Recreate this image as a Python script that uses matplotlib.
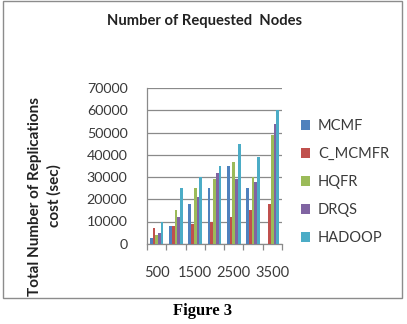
import matplotlib
matplotlib.use("Agg")
import matplotlib.pyplot as plt
from matplotlib.patches import Rectangle, Patch
import numpy as np

categories = ["500", "1000", "1500", "2000", "2500", "3000", "3500"]
series_names = ["MCMF", "C_MCMFR", "HQFR", "DRQS", "HADOOP"]
mcmf = [2500, 8000, 18000, 25000, 35000, 25000, 0]
c_mcmfr = [7200, 8000, 9000, 10000, 12000, 15000, 18000]
hqfr = [4000, 15000, 25000, 29000, 37000, 30000, 49000]
drqs = [5000, 12000, 21000, 32000, 29000, 28000, 54000]
hadoop = [10000, 25000, 30000, 35000, 45000, 39000, 60000]
yticks = [0, 10000, 20000, 30000, 40000, 50000, 60000, 70000]
shown_xlabels = ["500", "1500", "2500", "3500"]

colors = ["#4F81BD", "#C0504D", "#9BBB59", "#8064A2", "#4BACC6"]
series = [mcmf, c_mcmfr, hqfr, drqs, hadoop]

W, H = 407, 324
fig = plt.figure(figsize=(W / 100, H / 100), dpi=100)
fig.patch.set_facecolor("white")

# outer chart border
fig.add_artist(Rectangle((3 / W, 1 - 298 / H), 399 / W, 297.5 / H,
                         transform=fig.transFigure, fill=False,
                         edgecolor="#8c8c8c", linewidth=1.0))

left, right, top, bottom = 147, 282, 88.3, 243.7
ax = fig.add_axes([left / W, 1 - bottom / H, (right - left) / W, (bottom - top) / H])

x = np.arange(len(categories))
n = len(series)
bw = 0.14
for i, (vals, c, name) in enumerate(zip(series, colors, series_names)):
    ax.bar(x + (i - (n - 1) / 2) * bw, vals, width=bw, color=c, label=name,
           linewidth=0, zorder=3)

ax.set_xlim(-0.5, len(categories) - 0.5)
ax.set_ylim(0, 70000)
ax.set_yticks(yticks)
ax.set_yticklabels([str(v) for v in yticks])
ax.yaxis.grid(True, color="#8a8a8a", linewidth=0.9, zorder=0)
ax.tick_params(axis="y", length=0, pad=14, labelsize=10.3, labelcolor="#3a3a3a")

major_pos = [categories.index(l) for l in shown_xlabels]
ax.set_xticks(major_pos)
ax.set_xticklabels(shown_xlabels)
ax.set_xticks(np.arange(-0.5, len(categories)), minor=True)
ax.tick_params(axis="x", which="major", length=0, pad=16, labelsize=10.5, labelcolor="#3a3a3a")
ax.tick_params(axis="x", which="minor", length=4, color="#8a8a8a", width=0.9)

for s in ["top", "right"]:
    ax.spines[s].set_visible(False)
for s in ["left", "bottom"]:
    ax.spines[s].set_color("#8a8a8a")
    ax.spines[s].set_linewidth(0.9)

for lab in ax.get_xticklabels() + ax.get_yticklabels():
    lab.set_family("Lato")

fig.text(204 / W, 1 - 21 / H, "Number of Requested  Nodes", ha="center", va="center",
         fontsize=10.6, fontweight="bold", family="Lato", color="#222222")

fig.text(45 / W, 1 - 196 / H, "Total Number of Replications\ncost (sec)", ha="center",
         va="center", rotation=90, fontsize=11, fontweight="bold", family="Lato",
         color="#222222", linespacing=1.45)

handles = [Patch(facecolor=c, edgecolor="none") for c in colors]
leg = fig.legend(handles, series_names, loc="upper left",
                 bbox_to_anchor=(301 / W, 1 - 119 / H), frameon=False,
                 prop={"family": "Lato", "size": 10.5}, labelspacing=0.96,
                 handlelength=0.65, handleheight=0.65, handletextpad=0.5,
                 borderaxespad=0, borderpad=0)
for t in leg.get_texts():
    t.set_color("#3a3a3a")

fig.text(203 / W, 1 - 311 / H, "Figure 3", ha="center", va="center",
         fontsize=12, fontweight="bold", family="Liberation Serif", color="black")

fig.savefig("out.png", dpi=100)
